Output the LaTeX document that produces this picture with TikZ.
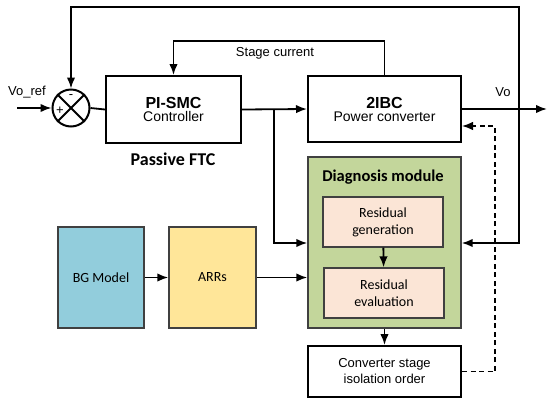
\documentclass[tikz,border=0pt]{standalone}
\usepackage{fontspec}
\setmainfont{Liberation Sans}
\newfontfamily\calfont{Carlito}
\usetikzlibrary{arrows.meta}

\definecolor{bgblue}{HTML}{92CDDC}
\definecolor{arrsyellow}{HTML}{FFE699}
\definecolor{diaggreen}{HTML}{C3D69B}
\definecolor{respeach}{HTML}{FBE5D6}

\begin{document}
\begin{tikzpicture}[x=1pt,y=-1pt,
    line/.style={line width=1.8pt},
    arr/.style={line, -{Latex[length=11pt,width=8.5pt]}},
    block/.style={draw, line width=2pt, align=center, inner sep=0pt},
    cblock/.style={draw=black!75, line width=1.4pt, align=center, inner sep=0pt,
        font=\calfont\fontsize{14}{17}\selectfont}]

\useasboundingbox (0,0) rectangle (550,405);

% Summing junction
\node[circle, draw, line width=2pt, minimum size=37pt, inner sep=0pt] (sum) at (71,108) {};
\draw[line] (sum.north west) -- (sum.south east);
\draw[line] (sum.north east) -- (sum.south west);
\node[font=\fontsize{13}{13}\selectfont] (minus) at (71,97) {-};
\node[font=\fontsize{13}{13}\selectfont] (plus) at (60,111) {+};

% Main blocks
\node[block, minimum width=135pt, minimum height=67pt] (pi) at (173.5,109.5)
    {{\bfseries\fontsize{16}{19}\selectfont PI-SMC}\\[1pt]{\fontsize{14}{17}\selectfont Controller}};
\node[block, minimum width=153pt, minimum height=66pt] (pc) at (384.5,109)
    {{\bfseries\fontsize{16}{19}\selectfont 2IBC}\\[1pt]{\fontsize{14}{17}\selectfont Power converter}};
\node[font=\calfont\bfseries\fontsize{18}{21}\selectfont] (ftc) at (173,159) {Passive FTC};

% Diagnosis module
\node[cblock, fill=diaggreen, minimum width=153pt, minimum height=171pt] (diag) at (384.5,242.5) {};
\node[font=\calfont\bfseries\fontsize{16.5}{19}\selectfont] (diagt) at (383,177) {Diagnosis module};
\node[cblock, fill=respeach, minimum width=120pt, minimum height=50pt] (gen) at (383,222)
    {Residual\\generation};
\node[cblock, fill=respeach, minimum width=120pt, minimum height=50pt] (eval) at (384,293)
    {Residual\\evaluation};
\node[block, minimum width=153pt, minimum height=51pt, font=\fontsize{13}{16}\selectfont] (iso) at (384.5,371.5)
    {Converter stage\\isolation order};

% Model blocks
\node[cblock, fill=bgblue, minimum width=86pt, minimum height=101pt] (bg) at (101,277.5) {BG Model};
\node[cblock, fill=arrsyellow, minimum width=87pt, minimum height=101pt] (arrs) at (212.5,277.5) {ARRs};

% Points on the wires
\coordinate (vin) at (17,108);
\coordinate (br) at (274,109.5);
\coordinate (tap) at (519,109);
\coordinate (fbtop) at (519,7);
\coordinate (vout) at (547,109);
\coordinate (dlev) at (0,243);
\coordinate (dsh) at (495,126);

% Labels
\node[font=\fontsize{13}{13}\selectfont] (vref) at (27,92) {Vo\_ref};
\node[font=\fontsize{13}{13}\selectfont] (vo) at (503,92) {Vo};
\node[font=\fontsize{13}{13}\selectfont] (sc) at (275,53) {Stage current};

% Signal path
\draw[arr] (vin) -- (sum.west);
\draw[line] (sum.east) -- (pi.west);
\draw[arr] (pi.east) -- (pc.west);
\draw[arr] (pc.east) -- (vout);
\draw[arr] (pc.north) -- ++(0,-34) -| (pi.north);
\draw[arr] (tap) -- (fbtop) -| (sum.north);

% Diagnosis inputs and outputs
\draw[arr] (br) |- (diag.west |- dlev);
\draw[arr] (tap) |- (diag.east |- dlev);
\draw[arr] (bg) -- (arrs);
\draw[arr] (arrs.east) -- (diag.west |- arrs.east);
\draw[arr] (gen) -- (eval);
\draw[arr] (diag.south) -- (iso.north);
\draw[arr, line width=1.4pt, dash pattern=on 5pt off 3.5pt] (iso.east) -| (dsh) -- (pc.east |- dsh);

\end{tikzpicture}
\end{document}
